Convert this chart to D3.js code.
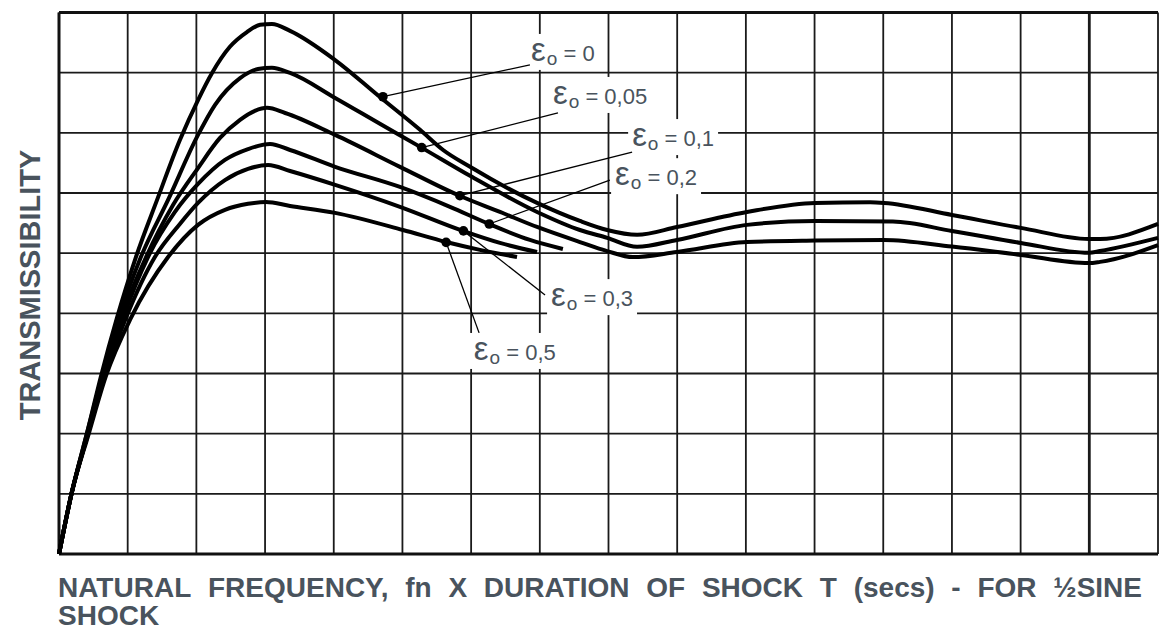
<!DOCTYPE html>
<html><head><meta charset="utf-8">
<script src="https://cdn.jsdelivr.net/npm/d3@7"></script>
<style>body{margin:0;background:#fff}svg{display:block}</style>
</head><body><svg id="c" width="1159" height="634"></svg>
<script>
// ---- data (x: fn·T in grid units of 0.25, y: transmissibility in grid units of 0.2) ----
const xGridTicks = d3.range(0, 4.0001, 0.25);
const yGridTicks = d3.range(0, 1.8001, 0.2);
const dampingLabels = ["0", "0,05", "0,1", "0,2", "0,3", "0,5"];

const curveE0 = [[0,0],[0.047,0.206],[0.102,0.402],[0.153,0.592],[0.211,0.785],[0.280,0.987],[0.357,1.177],[0.440,1.376],[0.506,1.509],[0.557,1.599],[0.622,1.686],[0.684,1.735],[0.732,1.759],[0.775,1.762],[0.841,1.739],[1.005,1.642],[1.168,1.519],[1.314,1.410],[1.398,1.343],[1.496,1.287],[1.740,1.167],[1.896,1.107],[1.995,1.077],[2.104,1.061],[2.249,1.087],[2.504,1.137],[2.752,1.167],[2.952,1.169],[3.003,1.167],[3.250,1.127],[3.501,1.084],[3.749,1.047],[3.789,1.047],[4.0,1.097]];
const curveE005 = [[0,0],[0.047,0.206],[0.102,0.402],[0.157,0.592],[0.218,0.785],[0.298,0.987],[0.397,1.177],[0.506,1.393],[0.568,1.493],[0.659,1.582],[0.724,1.612],[0.775,1.616],[0.841,1.599],[1.005,1.516],[1.168,1.430],[1.321,1.350],[1.496,1.257],[1.740,1.137],[1.896,1.077],[1.995,1.051],[2.104,1.021],[2.249,1.044],[2.504,1.094],[2.752,1.107],[3.035,1.105],[3.250,1.074],[3.501,1.034],[3.749,1.001],[3.789,1.007],[4.0,1.051]];
const curveE01 = [[0,0],[0.047,0.206],[0.106,0.402],[0.160,0.592],[0.226,0.785],[0.317,0.987],[0.415,1.160],[0.506,1.283],[0.586,1.383],[0.659,1.443],[0.713,1.473],[0.757,1.483],[0.823,1.466],[1.005,1.393],[1.241,1.287],[1.460,1.190],[1.605,1.137],[1.740,1.087],[1.896,1.037],[1.995,1.007],[2.089,0.987],[2.249,1.004],[2.504,1.037],[2.752,1.042],[3.003,1.044],[3.250,1.022],[3.501,0.994],[3.749,0.967],[3.789,0.971],[4.0,1.027]];
const curveE02 = [[0,0],[0.047,0.206],[0.106,0.402],[0.164,0.592],[0.233,0.785],[0.324,0.987],[0.422,1.137],[0.506,1.230],[0.604,1.310],[0.688,1.346],[0.768,1.363],[0.841,1.343],[1.005,1.287],[1.241,1.220],[1.423,1.154],[1.565,1.097],[1.714,1.044],[1.834,1.014]];
const curveE03 = [[0,0],[0.047,0.206],[0.106,0.402],[0.167,0.592],[0.244,0.785],[0.349,0.987],[0.440,1.097],[0.506,1.167],[0.604,1.243],[0.688,1.280],[0.761,1.293],[0.841,1.273],[1.005,1.227],[1.241,1.154],[1.470,1.074],[1.605,1.034],[1.740,1.004]];
const curveE05 = [[0,0],[0.047,0.206],[0.109,0.402],[0.171,0.592],[0.262,0.785],[0.397,0.987],[0.506,1.094],[0.604,1.144],[0.688,1.164],[0.753,1.170],[0.841,1.157],[1.005,1.134],[1.252,1.077],[1.409,1.037],[1.532,1.011],[1.667,0.987]];
const allCurves = [curveE0, curveE005, curveE01, curveE02, curveE03, curveE05];

// annotation: point on curve, leader end, label anchor (data units)
const labelDots    = [[1.179,1.520],[1.320,1.351],[1.459,1.191],[1.566,1.097],[1.472,1.074],[1.409,1.036]];
const labelLeaders = [[1.714,1.626],[1.816,1.466],[2.086,1.336],[2.005,1.243],[1.769,0.861],[1.529,0.735]];
const labelAnchors = [[1.718,1.639],[1.798,1.496],[2.086,1.356],[2.024,1.226],[1.791,0.824],[1.510,0.645]];

const xTitle1 = "NATURAL FREQUENCY, fn X DURATION OF SHOCK T (secs) - FOR ½SINE";
const xTitle2 = "SHOCK";
const yTitle = "TRANSMISSIBILITY";

// ---- drawing ----
const svg = d3.select("#c");
const L = 59, R = 1158, T = 12.5, B = 554;
const x = d3.scaleLinear().domain([0, 4]).range([L, R]);
const y = d3.scaleLinear().domain([0, 1.8]).range([B, T]);
const FONT = "'Liberation Sans', Arial, Helvetica, sans-serif";
const TXT = "#49535d";

const grid = svg.append("g");
grid.selectAll("line.v").data(xGridTicks).join("line")
  .attr("x1", d => x(d)).attr("x2", d => x(d)).attr("y1", T).attr("y2", B)
  .attr("stroke", "#1a1a1a").attr("stroke-width", (d, i) => i === 15 ? 2.8 : 1.8);
grid.selectAll("line.h").data(yGridTicks).join("line")
  .attr("x1", L).attr("x2", R).attr("y1", d => y(d)).attr("y2", d => y(d))
  .attr("stroke", "#1a1a1a").attr("stroke-width", 1.8);
// frame
svg.append("line").attr("x1", L).attr("x2", R).attr("y1", T).attr("y2", T).attr("stroke", "#111").attr("stroke-width", 3);
svg.append("line").attr("x1", L).attr("x2", R).attr("y1", B).attr("y2", B).attr("stroke", "#111").attr("stroke-width", 3);
svg.append("line").attr("x1", L).attr("x2", L).attr("y1", T).attr("y2", B).attr("stroke", "#111").attr("stroke-width", 3);

const bgG = svg.append("g");
const curveG = svg.append("g");
const annG = svg.append("g");
const textG = svg.append("g");

const labels = textG.selectAll("text.lab").data(dampingLabels).join("text")
  .attr("x", (d, i) => x(labelAnchors[i][0]))
  .attr("y", (d, i) => y(labelAnchors[i][1]))
  .attr("font-family", FONT).attr("fill", TXT);
labels.each(function (d) {
  const t = d3.select(this);
  t.append("tspan").attr("font-size", 33).text("ε");
  t.append("tspan").attr("font-size", 19).attr("dx", 1).attr("dy", 4).text("o");
  t.append("tspan").attr("font-size", 22).attr("dy", -4).text(" = " + d);
});
labels.each(function () {
  const b = this.getBBox();
  bgG.append("rect").attr("x", b.x - 4).attr("y", b.y + 3).attr("width", b.width + 8).attr("height", b.height - 2)
    .attr("fill", "#fff");
});

const line = d3.line().x(d => x(d[0])).y(d => y(d[1])).curve(d3.curveMonotoneX);
curveG.selectAll("path").data(allCurves).join("path")
  .attr("d", line).attr("fill", "none").attr("stroke", "#000")
  .attr("stroke-width", 4).attr("stroke-linejoin", "round");

annG.selectAll("line").data(labelDots).join("line")
  .attr("x1", d => x(d[0])).attr("y1", d => y(d[1]))
  .attr("x2", (d, i) => x(labelLeaders[i][0])).attr("y2", (d, i) => y(labelLeaders[i][1]))
  .attr("stroke", "#000").attr("stroke-width", 1.3);
annG.selectAll("circle").data(labelDots).join("circle")
  .attr("cx", d => x(d[0])).attr("cy", d => y(d[1])).attr("r", 4.8).attr("fill", "#000");

// axis titles
const xs = 28;
const words = xTitle1.split(" ");
const wt = svg.append("g").attr("font-family", FONT).attr("font-weight", "bold").attr("font-size", xs).attr("fill", TXT);
const wNodes = words.map(w => wt.append("text").attr("y", 597).text(w));
const widths = wNodes.map(n => n.node().getComputedTextLength());
const x0 = 58, x1 = 1142;
const gap = (x1 - x0 - d3.sum(widths)) / (words.length - 1);
let cx = x0;
wNodes.forEach((n, i) => { n.attr("x", cx); cx += widths[i] + gap; });
wt.append("text").attr("x", x0).attr("y", 625).text(xTitle2);

svg.append("text").attr("transform", "translate(40,285) rotate(-90)")
  .attr("text-anchor", "middle").attr("font-family", FONT).attr("font-weight", "bold")
  .attr("font-size", 29).attr("fill", TXT).text(yTitle);
</script></body></html>
